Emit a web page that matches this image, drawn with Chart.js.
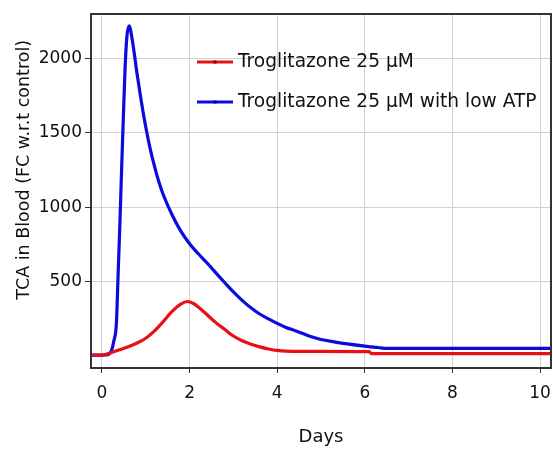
<!DOCTYPE html>
<html>
<head>
<meta charset="utf-8">
<script src="https://cdn.jsdelivr.net/npm/chart.js@4.4.1/dist/chart.umd.min.js"></script>
<style>
  html, body { margin: 0; padding: 0; background: #ffffff; }
  #wrap { width: 553px; height: 449px; }
</style>
</head>
<body>
<div id="wrap"><canvas id="c" width="553" height="449"></canvas></div>
<script>
// ---- data ----
const seriesLabels = ['Troglitazone 25 µM', 'Troglitazone 25 µM with low ATP'];
const xTitle = 'Days';
const yTitle = 'TCA in Blood (FC w.r.t control)';
const xTicks = [0, 2, 4, 6, 8, 10];
const yTicks = [500, 1000, 1500, 2000];

const daysRed = [-0.25, 0, 0.1, 0.2, 0.4, 0.6, 0.8, 1.0, 1.2, 1.4, 1.6, 1.8, 1.95, 2.1, 2.2, 2.4, 2.6, 2.8, 3.0, 3.2, 3.4, 3.6, 3.8, 4.0, 4.2, 5.0, 6.1, 6.15, 10.25];
const tcaRed  = [7, 7, 12, 22, 42, 63, 88, 120, 170, 232, 300, 350, 367, 352, 330, 278, 225, 180, 135, 103, 80, 62, 48, 38, 34, 32, 30, 16, 16];

const daysBlue = [-0.25, 0, 0.1, 0.17, 0.22, 0.27, 0.33, 0.37, 0.41, 0.45, 0.49, 0.53, 0.57, 0.62, 0.7, 0.8, 0.9, 1.0, 1.1, 1.2, 1.3, 1.4, 1.6, 1.8, 2.0, 2.2, 2.4, 2.6, 2.8, 3.0, 3.2, 3.4, 3.6, 3.8, 4.0, 4.2, 4.4, 4.6, 4.8, 5.0, 5.3, 5.6, 6.0, 6.3, 6.5, 10.25];
const tcaBlue  = [7, 7, 8, 15, 40, 100, 222, 558, 895, 1270, 1620, 1950, 2150, 2220, 2110, 1900, 1710, 1540, 1395, 1275, 1170, 1085, 950, 840, 755, 688, 626, 560, 495, 432, 375, 325, 283, 250, 220, 193, 172, 150, 128, 112, 96, 82, 67, 58, 52, 52];

const lineColors = ['rgb(232,16,20)', 'rgb(10,10,225)'];
const markerColors = ['rgb(120,10,10)', 'rgb(10,10,110)'];

const FONT = 'DejaVu Sans';
const TEXT = '#111111';

const toXY = (xs, ys) => xs.map((x, i) => ({ x: x, y: ys[i] }));

const framePlugin = {
  id: 'frame',
  afterDatasetsDraw(chart) {
    const { ctx, chartArea: a } = chart;
    ctx.save();
    ctx.strokeStyle = '#333';
    ctx.lineWidth = 2;
    ctx.strokeRect(a.left, a.top, a.right - a.left, a.bottom - a.top);
    ctx.restore();
  }
};

const legendPlugin = {
  id: 'inLegend',
  afterDraw(chart, args, opts) {
    const { ctx, chartArea: a } = chart;
    ctx.save();
    chart.data.datasets.forEach((ds, i) => {
      const y = a.top + opts.top + i * opts.gap;
      const x0 = a.left + opts.left;
      ctx.strokeStyle = ds.borderColor;
      ctx.lineWidth = 3;
      ctx.beginPath();
      ctx.moveTo(x0, y);
      ctx.lineTo(x0 + opts.len, y);
      ctx.stroke();
      ctx.fillStyle = markerColors[i];
      ctx.fillRect(x0 + opts.len / 2 - 1.5, y - 1.5, 3, 3);
      ctx.fillStyle = TEXT;
      ctx.font = opts.font;
      ctx.textAlign = 'left';
      ctx.textBaseline = 'middle';
      ctx.fillText(ds.label, x0 + opts.len + 5, y);
    });
    ctx.restore();
  }
};

const yTitlePlugin = {
  id: 'yTitle',
  afterDraw(chart, args, opts) {
    const { ctx, chartArea: a } = chart;
    ctx.save();
    ctx.translate(opts.x, a.top + (a.bottom - a.top) * opts.frac);
    ctx.rotate(-Math.PI / 2);
    ctx.fillStyle = TEXT;
    ctx.font = opts.font;
    ctx.textAlign = 'center';
    ctx.textBaseline = 'middle';
    ctx.fillText(yTitle, 0, 0);
    ctx.restore();
  }
};

new Chart(document.getElementById('c'), {
  type: 'line',
  data: {
    datasets: [
      { label: seriesLabels[0], data: toXY(daysRed, tcaRed), borderColor: lineColors[0], backgroundColor: lineColors[0],
        borderWidth: 3.2, pointRadius: 0, cubicInterpolationMode: 'monotone', fill: false },
      { label: seriesLabels[1], data: toXY(daysBlue, tcaBlue), borderColor: lineColors[1], backgroundColor: lineColors[1],
        borderWidth: 3.2, pointRadius: 0, cubicInterpolationMode: 'monotone', fill: false }
    ]
  },
  options: {
    responsive: false,
    animation: false,
    devicePixelRatio: 1,
    layout: { padding: { top: 14, right: 2, left: 0, bottom: 0 } },
    plugins: {
      legend: { display: false },
      tooltip: { enabled: false },
      inLegend: { left: 106, top: 48, gap: 40, len: 36, font: '18.6px "' + FONT + '"' },
      yTitle: { x: 24, frac: 0.44, font: '17.5px "' + FONT + '"' }
    },
    scales: {
      x: {
        type: 'linear',
        min: -0.25,
        max: 10.25,
        afterBuildTicks: (s) => { s.ticks = xTicks.map(v => ({ value: v })); },
        afterFit: (s) => { s.height = 81; s.paddingLeft = 0; s.paddingRight = 0; },
        ticks: { font: { family: FONT, size: 17 }, color: TEXT, padding: 10, maxRotation: 0,
                 callback: (v) => String(v) },
        grid: { color: '#d2d2d2', lineWidth: 1, drawTicks: true, tickLength: 5, tickColor: '#333' },
        border: { display: true, color: '#333', width: 2 },
        title: { display: true, text: xTitle, font: { family: FONT, size: 18 }, color: TEXT, padding: { top: 4, bottom: 1 } }
      },
      y: {
        type: 'linear',
        min: -80,
        max: 2300,
        afterBuildTicks: (s) => { s.ticks = yTicks.map(v => ({ value: v })); },
        afterFit: (s) => { s.width = 91; s.paddingTop = 0; s.paddingBottom = 0; },
        ticks: { font: { family: FONT, size: 17 }, color: TEXT, padding: 3,
                 callback: (v) => String(v) },
        grid: { color: '#d2d2d2', lineWidth: 1, drawTicks: true, tickLength: 6, tickColor: '#333' },
        border: { display: true, color: '#333', width: 2 },
        title: { display: false }
      }
    }
  },
  plugins: [framePlugin, legendPlugin, yTitlePlugin]
});
</script>
</body>
</html>
